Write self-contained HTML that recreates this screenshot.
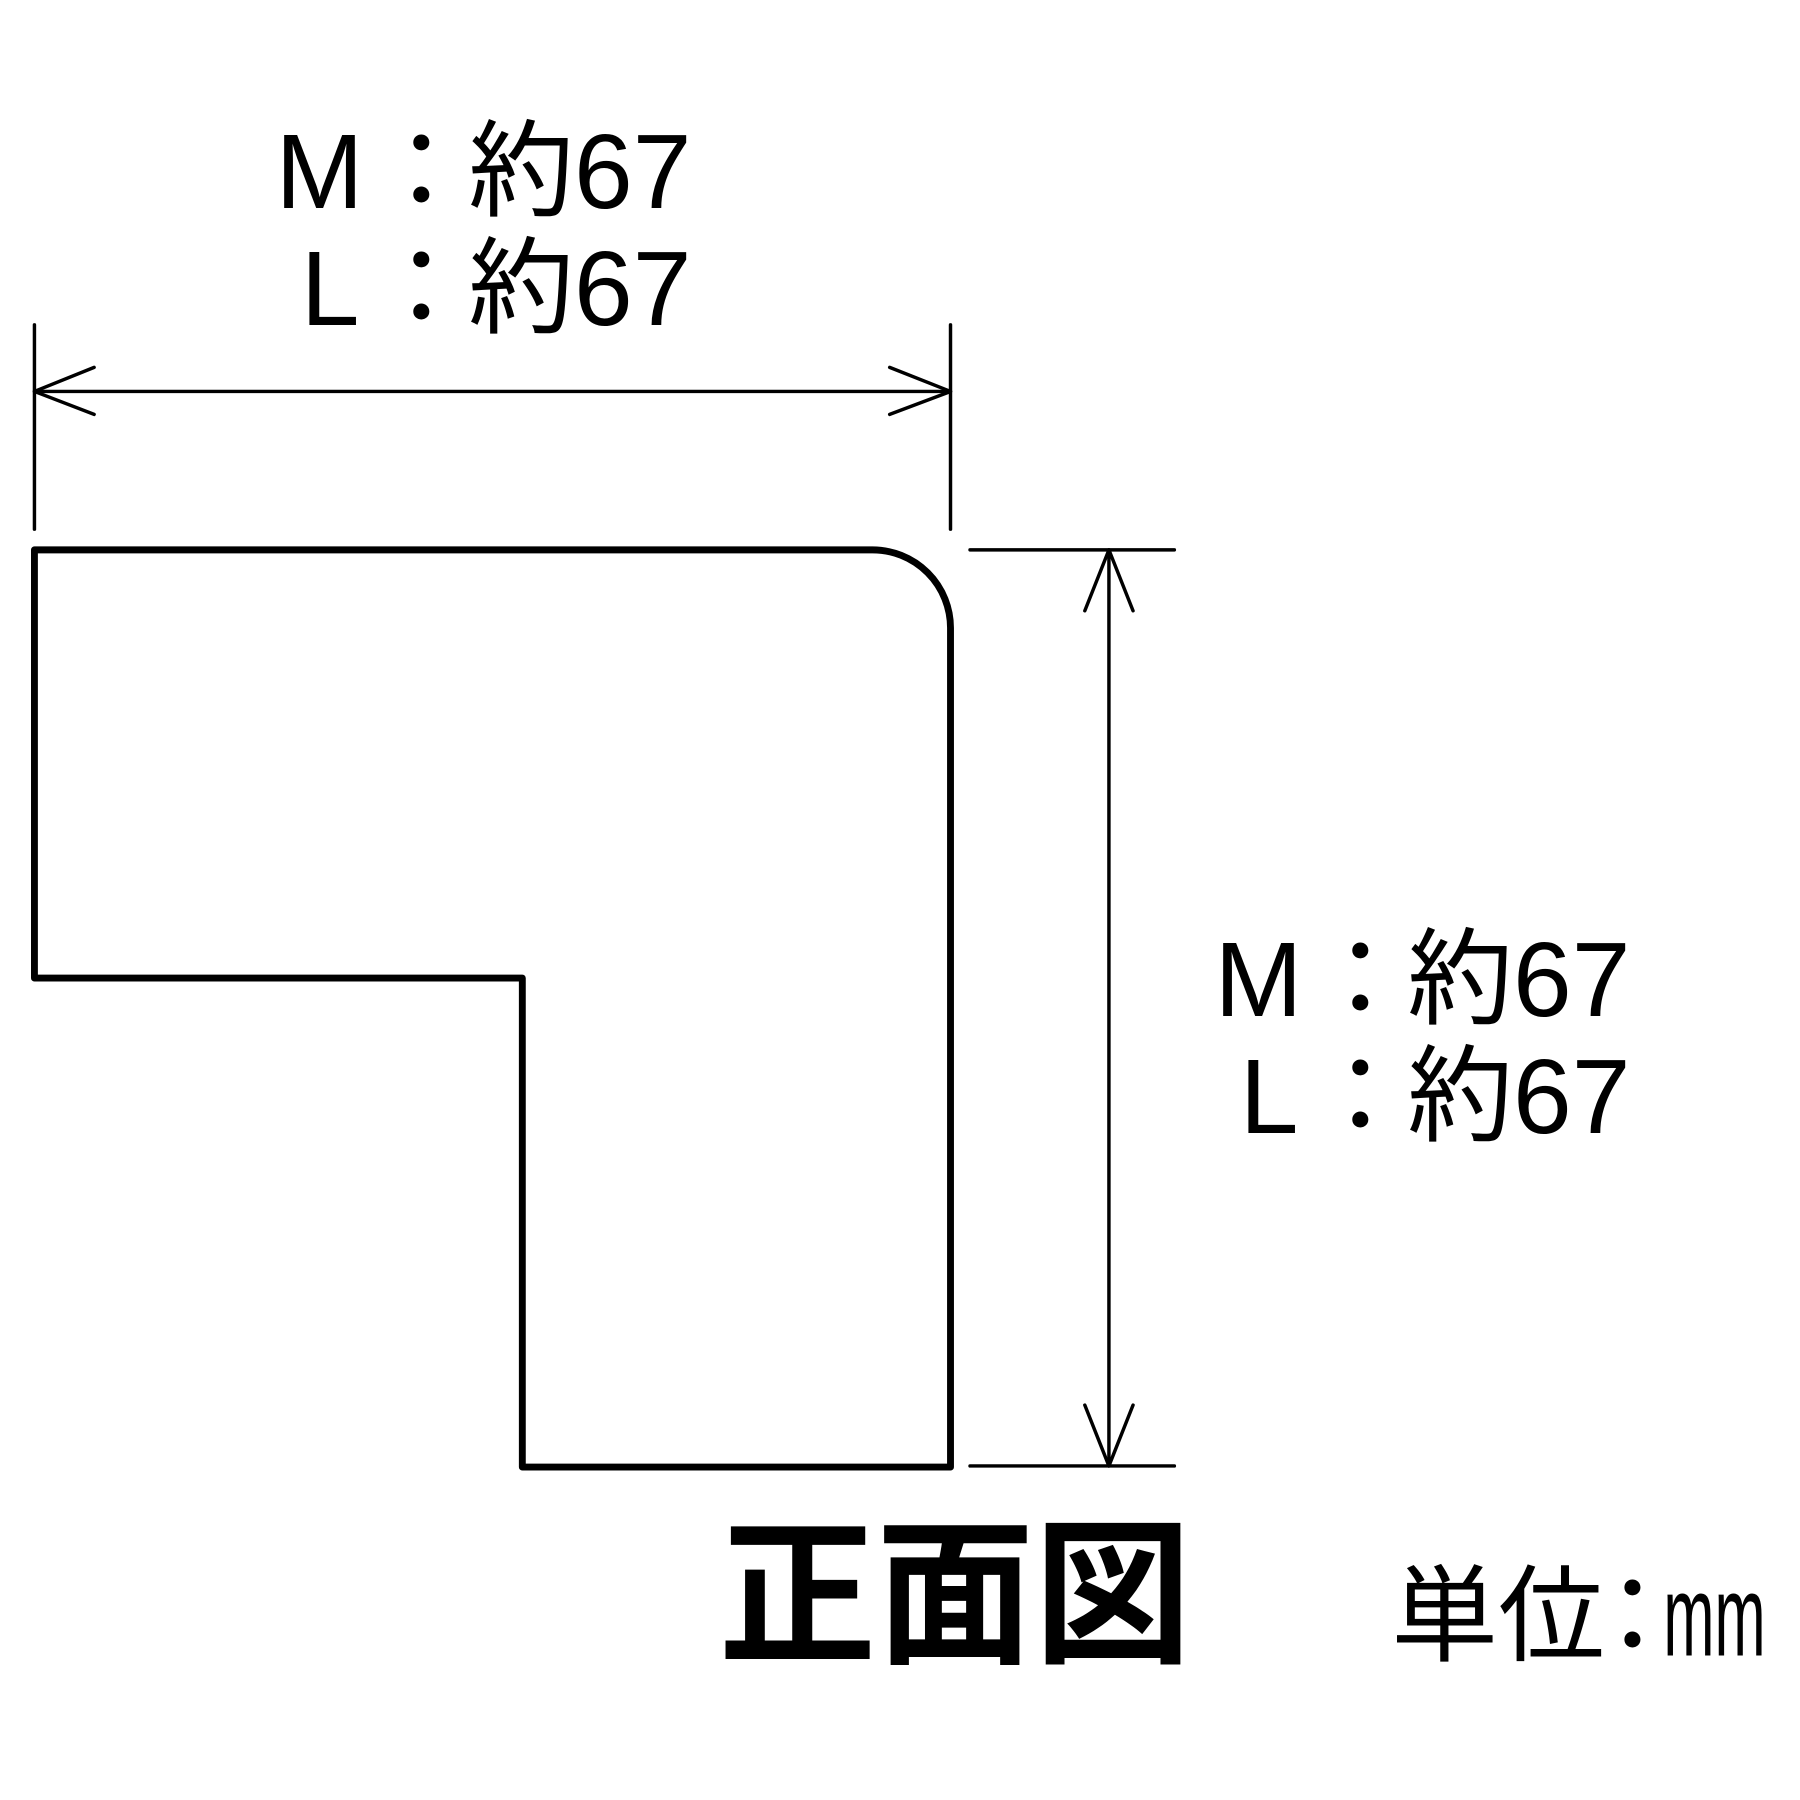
<!DOCTYPE html>
<html><head><meta charset="utf-8"><style>
html,body{margin:0;padding:0;background:#fff;}
svg{display:block;}
text{font-family:"Liberation Sans","Noto Sans CJK JP",sans-serif;fill:#000;}
</style></head><body>
<svg width="1800" height="1800" viewBox="0 0 1568 1568" xmlns="http://www.w3.org/2000/svg">
<g stroke="#000" fill="none" stroke-linecap="round" stroke-linejoin="round">
<line x1="30" y1="283" x2="30" y2="461" stroke-width="3"/>
<line x1="828" y1="283" x2="828" y2="461" stroke-width="3"/>
<line x1="30" y1="341" x2="828" y2="341" stroke-width="3"/>
<polyline points="82,320 30,341 82,361" stroke-width="3"/>
<polyline points="775,320 828,341 775,361" stroke-width="3"/>
<path d="M30,479 L760,479 A68,68 0 0 1 828,547 L828,1278 L455,1278 L455,852 L30,852 Z" stroke-width="6"/>
<line x1="845" y1="479" x2="1023" y2="479" stroke-width="3"/>
<line x1="845" y1="1277" x2="1023" y2="1277" stroke-width="3"/>
<line x1="966" y1="479" x2="966" y2="1277" stroke-width="3"/>
<polyline points="945,532 966,479 987,532" stroke-width="3"/>
<polyline points="945,1224 966,1277 987,1224" stroke-width="3"/>
</g>
<g font-size="92">
<text x="240" y="181">M</text>
<text x="321" y="181">：</text>
<text x="408" y="181">約67</text>
<text x="262" y="283">L</text>
<text x="321" y="283">：</text>
<text x="408" y="283">約67</text>
<text x="1058" y="885">M</text>
<text x="1139" y="885">：</text>
<text x="1226" y="885">約67</text>
<text x="1080" y="987">L</text>
<text x="1139" y="987">：</text>
<text x="1226" y="987">約67</text>
</g>
<text x="626" y="1438" font-size="138" font-weight="700" textLength="412" lengthAdjust="spacingAndGlyphs">正面図</text>
<text x="1212" y="1440" font-size="92" textLength="186" lengthAdjust="spacingAndGlyphs">単位</text>
<text x="1376" y="1440" font-size="92">：</text>
<text x="1449" y="1442" font-size="100" textLength="89" lengthAdjust="spacingAndGlyphs">mm</text>
</svg>
</body></html>
